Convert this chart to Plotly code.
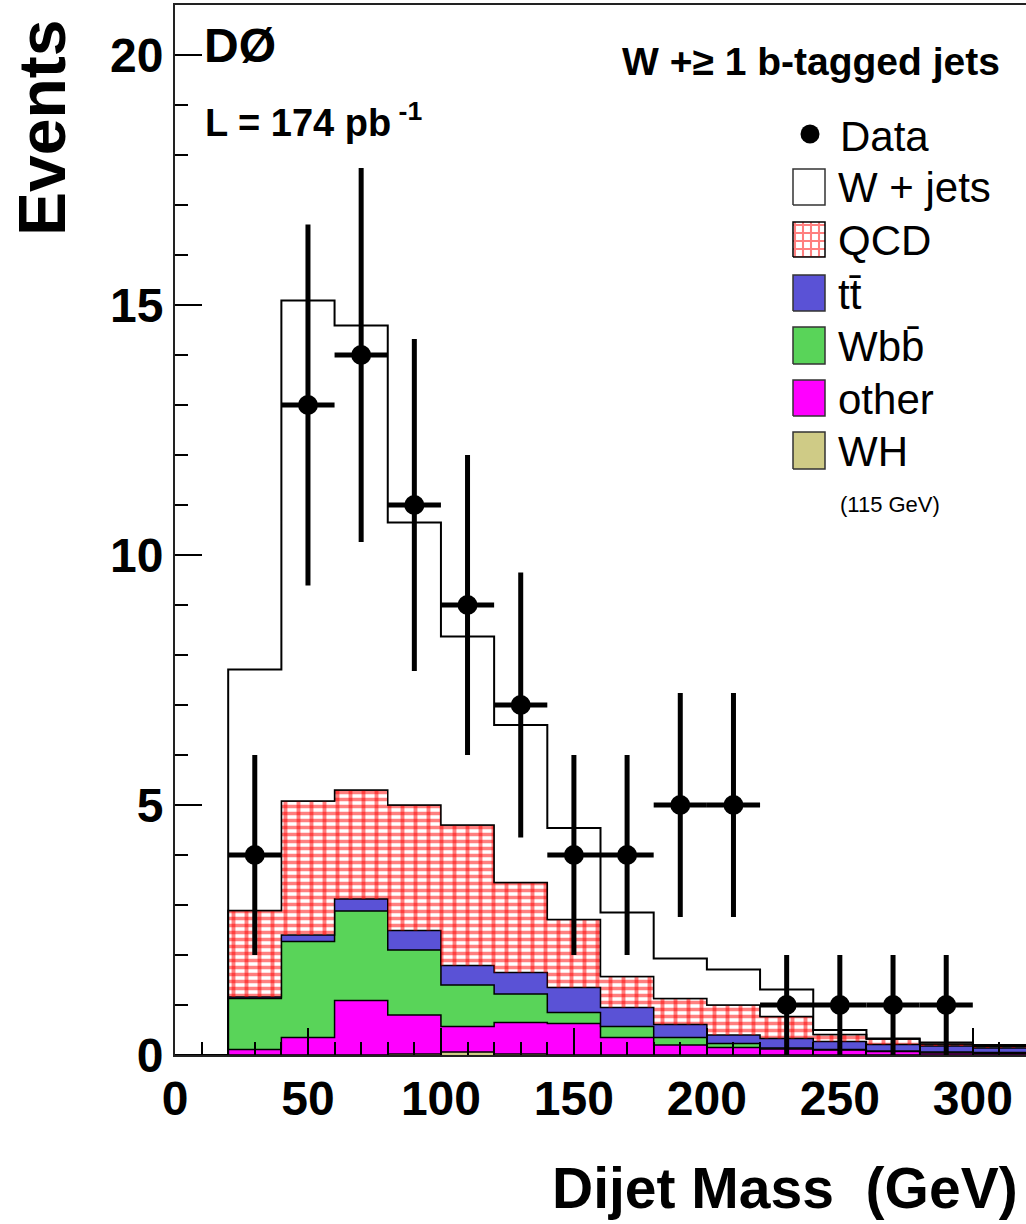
import plotly.graph_objects as go

# ---------------- data ----------------
bin_edges = [0, 20, 40, 60, 80, 100, 120, 140, 160, 180, 200, 220, 240, 260, 280, 300, 320]
# per-bin contributions (stacked bottom -> top)
wh     = [0, 0.00, 0.00, 0.00, 0.02, 0.06, 0.02, 0.00, 0.00, 0.00, 0.00, 0.00, 0.00, 0.00, 0.00, 0.00]
other  = [0, 0.11, 0.35, 1.09, 0.78, 0.51, 0.63, 0.63, 0.35, 0.20, 0.15, 0.12, 0.10, 0.07, 0.04, 0.03]
wbb    = [0, 1.02, 1.92, 1.79, 1.30, 0.83, 0.57, 0.22, 0.22, 0.15, 0.08, 0.02, 0.01, 0.01, 0.02, 0.02]
ttbar  = [0, 0.03, 0.13, 0.24, 0.39, 0.39, 0.43, 0.50, 0.38, 0.26, 0.17, 0.19, 0.16, 0.13, 0.12, 0.09]
qcd    = [0, 1.73, 2.68, 2.18, 2.51, 2.81, 1.80, 1.36, 0.62, 0.52, 0.60, 0.44, 0.14, 0.11, 0.04, 0.03]
wjets  = [0, 4.82, 10.01, 9.29, 5.65, 3.77, 3.15, 1.83, 1.28, 0.80, 0.71, 0.54, 0.09, 0.01, 0.03, 0.03]

data_x = [30, 50, 70, 90, 110, 130, 150, 170, 190, 210, 230, 250, 270, 290]
data_y = [4, 13, 14, 11, 9, 7, 4, 4, 5, 5, 1, 1, 1, 1]
data_err = [2.0, 3.61, 3.74, 3.32, 3.0, 2.65, 2.0, 2.0, 2.24, 2.24, 1.0, 1.0, 1.0, 1.0]

x_ticks = [0, 50, 100, 150, 200, 250, 300]
y_ticks = [0, 5, 10, 15, 20]

legend_labels = ["W + jets", "QCD", "tt\u0304", "Wbb\u0304", "other", "WH"]

# ---------------- styling ----------------
C_WH = "#cfcb86"
C_OTHER = "#ff00ff"
C_WBB = "#59d459"
C_TT = "#5a52d6"
RED = "#ff0000"
FONT = "Liberation Sans, Arial"

W, H = 1026, 1224
L, R, T, B = 175, 0, 5, 169
XR = [0, 320]
YR = [0, 21]


def px2x(px):
    return XR[0] + (px - L) * (XR[1] - XR[0]) / (W - L - R)


def py2y(py):
    return YR[0] + (H - B - py) * (YR[1] - YR[0]) / (H - B - T)


def xp(px):
    return (px - L) / (W - L - R)


def yp(py):
    return (H - B - py) / (H - B - T)


def cum(*lists):
    return [sum(v) for v in zip(*lists)]


def step_y(vals):
    return list(vals) + [vals[-1]]


fig = go.Figure()

stack = []
layers = [
    ("WH", wh, C_WH, None),
    ("other", other, C_OTHER, None),
    ("Wbb", wbb, C_WBB, None),
    ("tt", ttbar, C_TT, None),
    ("QCD", qcd, "white", "qcd"),
    ("W+jets", wjets, "white", None),
]
prev_top = None
for i, (name, vals, col, special) in enumerate(layers):
    stack.append(vals)
    top = cum(*stack)
    if special == "qcd":
        fig.add_trace(go.Scatter(
            x=bin_edges, y=step_y(top), mode="lines", line_shape="hv",
            line=dict(color="black", width=1.5),
            fill="tonexty", fillcolor="white",
            fillpattern=dict(shape="-", fgcolor=RED, bgcolor="white", size=7, solidity=0.5),
            showlegend=False, hoverinfo="skip"))
        fig.add_trace(go.Scatter(
            x=bin_edges, y=step_y(prev_top), mode="lines", line_shape="hv",
            line=dict(color="rgba(0,0,0,0)", width=0), showlegend=False, hoverinfo="skip"))
        fig.add_trace(go.Scatter(
            x=bin_edges, y=step_y(top), mode="lines", line_shape="hv",
            line=dict(color="black", width=1.5),
            fill="tonexty", fillcolor="rgba(0,0,0,0)",
            fillpattern=dict(shape="|", fgcolor=RED, bgcolor="rgba(0,0,0,0)", size=13, solidity=0.3),
            showlegend=False, hoverinfo="skip"))
    else:
        fig.add_trace(go.Scatter(
            x=bin_edges, y=step_y(top), mode="lines", line_shape="hv",
            line=dict(color="black", width=1.5 if i < 5 else 2),
            fill="tozeroy" if i == 0 else "tonexty", fillcolor=col,
            showlegend=False, hoverinfo="skip"))
    prev_top = top

# data points
fig.add_trace(go.Scatter(
    x=data_x, y=data_y, mode="markers",
    marker=dict(color="black", size=20, symbol="circle"),
    error_y=dict(type="data", array=data_err, visible=True, color="black", thickness=5, width=0),
    error_x=dict(type="constant", value=10, visible=True, color="black", thickness=5, width=0),
    showlegend=False, hoverinfo="skip"))

# ---------------- custom legend ----------------
box_px_y = [(169, 205), (222, 257), (275, 311), (327, 364), (380, 416), (432, 469)]
box_cols = ["white", "qcd", C_TT, C_WBB, C_OTHER, C_WH]
bx0, bx1 = px2x(793), px2x(825)
for (py0, py1), col in zip(box_px_y, box_cols):
    y0, y1 = py2y(py1), py2y(py0)
    xs = [bx0, bx1, bx1, bx0, bx0]
    ys = [y0, y0, y1, y1, y0]
    if col == "qcd":
        fig.add_trace(go.Scatter(x=xs, y=ys, mode="lines", line=dict(color="black", width=1.5),
                                 fill="toself", fillcolor="white",
                                 fillpattern=dict(shape="+", fgcolor=RED, bgcolor="white", size=8, solidity=0.45),
                                 showlegend=False, hoverinfo="skip"))
    else:
        fig.add_trace(go.Scatter(x=xs, y=ys, mode="lines", line=dict(color="#333", width=1.5),
                                 fill="toself", fillcolor=col, showlegend=False, hoverinfo="skip"))

fig.add_trace(go.Scatter(x=[px2x(810)], y=[py2y(134)], mode="markers",
                         marker=dict(color="black", size=19), showlegend=False, hoverinfo="skip"))

annots = []
annots.append(dict(x=xp(838), y=yp(137), text="Data"))
for (py0, py1), lab in zip(box_px_y, legend_labels):
    annots.append(dict(x=xp(836), y=yp((py0 + py1) / 2 + 1), text=lab))
for a in annots:
    a.update(xref="paper", yref="paper", xanchor="left", yanchor="middle", showarrow=False,
             font=dict(family=FONT, size=42, color="black"))

annots.append(dict(x=xp(838), y=yp(504), xref="paper", yref="paper", xanchor="left", yanchor="middle",
                   showarrow=False, text="(115 GeV)", font=dict(family=FONT, size=22, color="black")))

# header texts
annots.append(dict(x=xp(202), y=yp(46), xref="paper", yref="paper", xanchor="left", yanchor="middle",
                   showarrow=False, text="DØ", font=dict(family=FONT, size=48, color="black", weight="bold")))
annots.append(dict(x=xp(203), y=yp(120), xref="paper", yref="paper", xanchor="left", yanchor="middle",
                   showarrow=False, text="L = 174 pb<sup> -1</sup>",
                   font=dict(family=FONT, size=38, color="black", weight="bold")))
annots.append(dict(x=xp(1002), y=yp(62), xref="paper", yref="paper", xanchor="right", yanchor="middle",
                   showarrow=False, text="W +≥ 1 b-tagged jets",
                   font=dict(family=FONT, size=39, color="black", weight="bold")))
# axis titles
annots.append(dict(x=xp(42), y=yp(128), xref="paper", yref="paper", xanchor="center", yanchor="middle",
                   showarrow=False, text="Events", textangle=-90,
                   font=dict(family=FONT, size=66, color="black", weight="bold")))
annots.append(dict(x=xp(1020), y=yp(1188), xref="paper", yref="paper", xanchor="right", yanchor="middle",
                   showarrow=False, text="Dijet Mass  (GeV)",
                   font=dict(family=FONT, size=57, color="black", weight="bold")))

fig.update_layout(
    width=W, height=H,
    margin=dict(l=L, r=R, t=T, b=B, pad=0),
    plot_bgcolor="white", paper_bgcolor="white",
    annotations=annots,
    showlegend=False,
    xaxis=dict(range=XR, tickvals=x_ticks, ticktext=[str(v) for v in x_ticks],
               ticks="inside", ticklen=27, tickwidth=2, tickcolor="black",
               minor=dict(dtick=10, tick0=0, ticks="inside", ticklen=13, tickwidth=2, tickcolor="black", showgrid=False),
               showline=True, linewidth=2, linecolor="#222", mirror=True,
               showgrid=False, zeroline=False,
               tickfont=dict(family=FONT, size=48, color="black", weight="bold")),
    yaxis=dict(range=YR, tickvals=y_ticks, ticktext=[str(v) for v in y_ticks],
               ticks="inside", ticklen=27, tickwidth=2, tickcolor="black",
               minor=dict(dtick=1, tick0=0, ticks="inside", ticklen=13, tickwidth=2, tickcolor="black", showgrid=False),
               showline=True, linewidth=2, linecolor="#222",
               showgrid=False, zeroline=False,
               tickfont=dict(family=FONT, size=48, color="black", weight="bold")),
)

fig.write_html("out.html")
